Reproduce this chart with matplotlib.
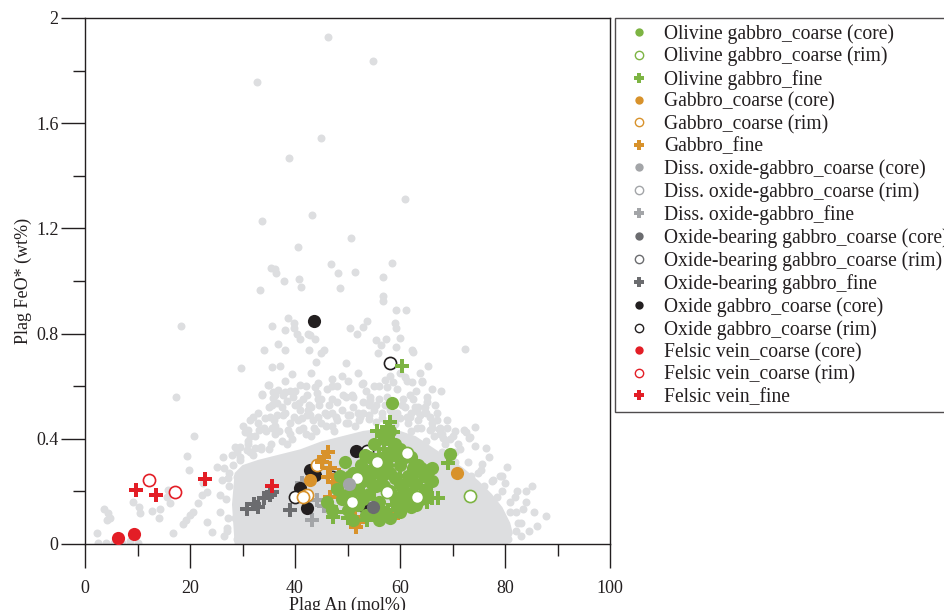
import matplotlib
matplotlib.use("Agg")
import matplotlib.pyplot as plt
from matplotlib.lines import Line2D

plt.rcParams['font.family'] = ['Liberation Serif', 'DejaVu Serif']

# ---------------- background compilation (light grey) ----------------
# outline of the densely packed part of the compilation
core_an = [28.5, 28.0, 28.5, 30, 33, 37, 41, 45, 49, 53, 57, 60, 63, 66, 69, 72, 75, 77.5, 79.5, 81, 81.5, 80.5]
core_feo = [0.00, 0.15, 0.27, 0.30, 0.32, 0.34, 0.36, 0.39, 0.41, 0.43, 0.44, 0.43, 0.41, 0.37, 0.33, 0.29, 0.24, 0.19, 0.14, 0.08, 0.04, 0.00]

bg_an = [46.2, 54.8, 32.7, 45.0, 38.8, 60.9, 33.8, 43.2, 50.7, 40.6, 58.5, 46.9, 35.4, 36.2, 36.4, 48.1,
         51.4, 56.8, 37.9, 40.8, 41.1, 33.4, 48.5, 56.8, 56.8, 59.3, 61.1, 18.3, 38.7, 35.7, 39.9, 39.9,
         38.0, 40.3, 42.4, 42.9, 41.0, 43.8, 36.8, 50.5, 53.0, 53.7, 51.9, 59.0, 59.3, 55.4, 56.4, 57.3,
         60.0, 59.3, 72.4, 34.0, 38.0, 42.7, 45.5, 62.3, 62.4, 17.3, 29.8, 35.6, 37.2, 39.4, 35.0, 41.0,
         33.7, 35.9, 36.8, 38.0, 35.9, 36.5, 37.5, 40.8, 44.0, 45.0, 49.7, 55.8, 47.0, 52.7, 57.1, 57.5,
         43.8, 44.1, 44.4, 49.8, 54.3, 65.3, 63.8, 64.1, 61.0, 61.3, 67.9, 65.1, 63.2, 64.8, 61.9, 74.3,
         67.6, 72.6, 73.2, 67.5, 68.1,
         87.9, 85.1, 82.3, 81.9, 83.5, 80.4, 79.5, 80.0, 77.0, 76.3, 74.3, 75.6, 74.9, 77.8, 79.0,
         82.0, 83.0, 81.0, 84.0, 86.0, 80.5,
         20.8, 19.4, 19.8, 15.9, 15.7, 16.1, 14.2, 12.8, 14.1, 10.2, 10.5, 9.2, 3.6, 4.4, 4.8, 4.1,
         2.2, 2.5, 4.0, 5.5, 7.0, 8.5, 10.0, 16.7, 18.7, 19.2, 20.0, 20.6, 21.6, 22.2, 23.2, 22.5,
         24.1, 23.2, 25.7, 25.7, 26.0, 25.1, 27.3, 28.9, 28.9, 30.8, 32.4, 26.5, 27.0, 26.2,
         34.9, 44.4, 53.0, 58.7, 62.2, 64.1, 33.7, 36.2, 37.8, 39.7, 42.2, 49.2, 50.8, 54.3, 61.9, 65.1,
         35.6, 40.0, 42.6, 46.4, 54.0, 57.1, 60.3, 62.9, 64.8, 66.7,
         32.0, 35.2, 37.7, 39.9, 42.2, 44.4, 47.9, 50.5, 52.4, 61.3, 63.8, 65.7, 68.9, 72.1, 73.3,
         31.0, 33.2, 35.7, 38.6, 40.8, 43.7, 45.9, 49.7, 52.2, 63.2, 65.7, 67.6,
         28.5, 31.1, 33.6, 31.4, 34.3, 36.2, 39.0, 41.3, 42.9, 45.7, 30.5, 32.4, 34.5, 36.2,
         29.5, 32.0, 35.0, 38.5, 43.0, 47.5, 51.5, 55.5, 59.0, 62.0, 65.0, 68.0, 70.5, 73.5, 76.0, 78.5,
         27.0, 27.2, 26.8, 27.4, 28.2, 29.5, 31.5, 33.5, 35.5, 37.5, 39.5, 42.0, 44.0, 47.0, 50.0, 54.0,
         56.5, 59.0, 61.5, 64.0, 66.5, 68.5, 70.5, 73.0, 75.5, 77.5, 79.5, 81.0, 82.0, 82.5, 83.0, 84.5,
         85.5, 84.0, 29.0, 28.5,
         30.0, 33.0, 36.0, 38.0, 41.0, 43.0, 45.0, 47.0, 48.0, 51.0, 53.0, 55.0, 56.0, 58.0, 59.5, 60.5,
         62.0, 63.5, 66.0, 67.0, 69.0, 70.0, 71.0, 46.0, 48.0, 50.0, 55.0, 59.5, 60.0, 52.0, 39.0, 41.5,
         31.5, 33.0, 34.0, 35.0, 36.5, 37.0, 38.5, 39.0, 40.5, 41.5, 42.5, 43.5, 44.5, 45.0, 46.0, 47.0,
         48.0, 49.0, 50.0, 51.0, 52.0, 53.0, 54.0, 55.5, 56.5, 57.5, 58.5, 60.0, 61.0, 62.5, 63.5, 65.0,
         66.0, 67.0, 68.0, 69.5, 70.5, 71.5, 38.0, 40.0, 42.0, 43.0, 47.0, 49.0, 53.5, 56.0, 58.0, 63.0,
         66.0, 31.0, 29.5, 28.0, 26.5, 27.5]
bg_feo = [1.927, 1.837, 1.758, 1.545, 1.467, 1.313, 1.229, 1.251, 1.162, 1.129, 1.070, 1.066, 1.048, 1.047, 1.032, 1.029,
          1.033, 1.015, 1.000, 1.009, 0.977, 0.965, 0.973, 0.942, 0.925, 0.890, 0.890, 0.828, 0.861, 0.830, 0.840, 0.820,
          0.815, 0.800, 0.800, 0.794, 0.779, 0.779, 0.760, 0.820, 0.826, 0.847, 0.797, 0.839, 0.820, 0.776, 0.758, 0.779,
          0.782, 0.750, 0.741, 0.738, 0.738, 0.738, 0.738, 0.738, 0.730, 0.558, 0.669, 0.674, 0.677, 0.646, 0.605, 0.605,
          0.569, 0.579, 0.586, 0.579, 0.554, 0.535, 0.522, 0.535, 0.693, 0.725, 0.687, 0.725, 0.626, 0.608, 0.624, 0.598,
          0.598, 0.573, 0.551, 0.560, 0.548, 0.677, 0.649, 0.621, 0.636, 0.621, 0.582, 0.541, 0.507, 0.503, 0.484, 0.446,
          0.440, 0.425, 0.402, 0.437, 0.402,
          0.108, 0.222, 0.203, 0.180, 0.132, 0.292, 0.259, 0.231, 0.332, 0.364, 0.373, 0.304, 0.269, 0.243, 0.259,
          0.050, 0.080, 0.120, 0.160, 0.070, 0.020,
          0.411, 0.335, 0.281, 0.205, 0.180, 0.155, 0.132, 0.127, 0.100, 0.142, 0.117, 0.161, 0.132, 0.117, 0.100, 0.091,
          0.040, 0.005, 0.005, 0.005, 0.005, 0.010, 0.005, 0.040, 0.076, 0.091, 0.110, 0.123, 0.155, 0.186, 0.199, 0.231,
          0.047, 0.085, 0.123, 0.186, 0.243, 0.292, 0.250, 0.256, 0.351, 0.357, 0.364, 0.030, 0.060, 0.330,
          0.605, 0.611, 0.611, 0.617, 0.617, 0.617, 0.567, 0.567, 0.567, 0.560, 0.567, 0.567, 0.567, 0.560, 0.567, 0.560,
          0.529, 0.529, 0.529, 0.529, 0.529, 0.529, 0.529, 0.520, 0.520, 0.529,
          0.483, 0.483, 0.490, 0.483, 0.490, 0.483, 0.483, 0.490, 0.483, 0.483, 0.490, 0.483, 0.470, 0.433, 0.408,
          0.433, 0.433, 0.440, 0.433, 0.433, 0.440, 0.450, 0.460, 0.470, 0.440, 0.433, 0.420,
          0.370, 0.380, 0.370, 0.470, 0.480, 0.450, 0.460, 0.480, 0.490, 0.500, 0.426, 0.410, 0.430, 0.420,
          0.320, 0.340, 0.360, 0.380, 0.410, 0.430, 0.450, 0.465, 0.455, 0.430, 0.390, 0.350, 0.310, 0.260, 0.220, 0.180,
          0.050, 0.100, 0.170, 0.220, 0.300, 0.330, 0.350, 0.360, 0.380, 0.390, 0.400, 0.420, 0.430, 0.450, 0.460, 0.475,
          0.480, 0.475, 0.460, 0.440, 0.410, 0.380, 0.350, 0.310, 0.280, 0.240, 0.200, 0.160, 0.120, 0.080, 0.030, 0.050,
          0.120, 0.200, 0.020, 0.100,
          0.450, 0.460, 0.470, 0.500, 0.510, 0.520, 0.550, 0.500, 0.540, 0.520, 0.500, 0.510, 0.550, 0.510, 0.500, 0.550,
          0.500, 0.470, 0.460, 0.500, 0.440, 0.410, 0.380, 0.590, 0.600, 0.620, 0.600, 0.590, 0.650, 0.650, 0.580, 0.550,
          0.410, 0.500, 0.440, 0.520, 0.490, 0.430, 0.545, 0.420, 0.470, 0.440, 0.510, 0.470, 0.530, 0.460, 0.490, 0.550,
          0.470, 0.510, 0.490, 0.560, 0.500, 0.540, 0.490, 0.530, 0.500, 0.560, 0.500, 0.480, 0.520, 0.550, 0.520, 0.500,
          0.440, 0.470, 0.420, 0.400, 0.430, 0.360, 0.620, 0.580, 0.600, 0.650, 0.600, 0.640, 0.580, 0.600, 0.640, 0.580,
          0.590, 0.390, 0.370, 0.340, 0.290, 0.270]

# ---------------- sample series ----------------
ol_core_an = [58.4, 53.3, 69.5, 48, 49, 50, 50.5, 51.5, 52, 52.5, 53, 53.5, 54, 54.5, 55, 55.5, 56, 56.5, 57,
              57.5, 58, 58.5, 59, 59.5, 60, 60.5, 61, 61.5, 62, 62.5, 63, 63.5, 64, 64.5, 65, 65.5, 66,
              46, 47, 55, 57, 58, 59, 51, 60, 62, 56,
              48.5, 49.5, 50, 51, 52, 53, 54, 55, 56, 57, 58, 59, 60, 61, 62, 63, 64, 65, 66, 60, 62, 57,
              55, 58, 53]
ol_core_feo = [0.537, 0.338, 0.342, 0.21, 0.17, 0.13, 0.26, 0.20, 0.15, 0.30, 0.24, 0.11, 0.19, 0.28, 0.32, 0.22,
               0.16, 0.26, 0.12, 0.30, 0.20, 0.35, 0.25, 0.15, 0.30, 0.21, 0.33, 0.26, 0.19, 0.29, 0.23, 0.30,
               0.17, 0.26, 0.21, 0.28, 0.24, 0.16, 0.13, 0.38, 0.40, 0.43, 0.38, 0.27, 0.12, 0.14, 0.09,
               0.26, 0.31, 0.19, 0.09, 0.21, 0.17, 0.33, 0.27, 0.30, 0.22, 0.27, 0.18, 0.23, 0.17, 0.24, 0.15,
               0.29, 0.19, 0.29, 0.36, 0.33, 0.33, 0.12, 0.10, 0.27]
ol_rim_an = [73.3, 61.3, 55.6, 51.9, 57.5, 63.2, 50.8]
ol_rim_feo = [0.182, 0.345, 0.313, 0.250, 0.199, 0.180, 0.161]
ol_fine_an = [60.4, 55.6, 57.5, 58.1, 58.7, 56.8, 69.2, 67.3, 66.0, 65.1, 47.3, 47.9, 53.7, 54.3, 57.8, 58.7,
              59.4, 49.0, 52.0, 54.0, 56.0, 57.0, 58.0, 60.0, 62.0, 63.0, 64.0, 61.0, 55.0, 50.0, 58.0, 59.5]
ol_fine_feo = [0.677, 0.430, 0.446, 0.462, 0.427, 0.414, 0.307, 0.174, 0.174, 0.161, 0.104, 0.123, 0.091, 0.110,
               0.129, 0.148, 0.161, 0.22, 0.28, 0.24, 0.34, 0.36, 0.38, 0.26, 0.32, 0.27, 0.22, 0.14, 0.17, 0.10,
               0.32, 0.34]

gb_core_an = [70.8, 42.9]
gb_core_feo = [0.269, 0.243]
gb_rim_an = [42.3, 41.5, 44.2]
gb_rim_feo = [0.186, 0.178, 0.300]
gb_fine_an = [46.2, 45.1, 46.7, 46.3, 48.3, 49.2, 47.3, 46.7, 51.4, 52.1, 51.7, 59.7, 54.9, 45.5]
gb_fine_feo = [0.351, 0.313, 0.288, 0.256, 0.262, 0.243, 0.237, 0.180, 0.104, 0.085, 0.066, 0.117, 0.269, 0.330]

dg_core_an = [50.3]
dg_core_feo = [0.227]
dg_rim_an = []
dg_rim_feo = []
dg_fine_an = [43.2, 45.5, 46.5, 44.1, 41.3]
dg_fine_feo = [0.091, 0.145, 0.140, 0.167, 0.231]

ob_core_an = [54.9]
ob_core_feo = [0.139]
ob_rim_an = []
ob_rim_feo = []
ob_fine_an = [30.8, 32.1, 33.0, 34.0, 35.2, 35.7, 39.0]
ob_fine_feo = [0.133, 0.152, 0.142, 0.174, 0.186, 0.199, 0.130]

ox_core_an = [43.6, 51.6, 42.9, 41.0, 42.3, 53.0, 43.8]
ox_core_feo = [0.849, 0.355, 0.281, 0.212, 0.136, 0.144, 0.262]
ox_rim_an = [58.0, 53.7, 40.0, 47.0]
ox_rim_feo = [0.689, 0.355, 0.180, 0.256]

fv_core_an = [6.3, 9.4]
fv_core_feo = [0.024, 0.038]
fv_rim_an = [12.1, 17.1]
fv_rim_feo = [0.243, 0.196]
fv_fine_an = [9.7, 13.5, 22.9, 35.6]
fv_fine_feo = [0.205, 0.186, 0.246, 0.221]

labels = ['Olivine gabbro_coarse (core)', 'Olivine gabbro_coarse (rim)', 'Olivine gabbro_fine',
          'Gabbro_coarse (core)', 'Gabbro_coarse (rim)', 'Gabbro_fine',
          'Diss. oxide-gabbro_coarse (core)', 'Diss. oxide-gabbro_coarse (rim)', 'Diss. oxide-gabbro_fine',
          'Oxide-bearing gabbro_coarse (core)', 'Oxide-bearing gabbro_coarse (rim)', 'Oxide-bearing gabbro_fine',
          'Oxide gabbro_coarse (core)', 'Oxide gabbro_coarse (rim)',
          'Felsic vein_coarse (core)', 'Felsic vein_coarse (rim)', 'Felsic vein_fine']

x_ticks = [0, 20, 40, 60, 80, 100]
y_ticks = [0, 0.4, 0.8, 1.2, 1.6, 2.0]
y_tick_labels = ['0', '0.4', '0.8', '1.2', '1.6', '2']

GREEN = '#7db443'
ORANGE = '#d8922b'
LGRAY = '#a3a5a8'
DGRAY = '#6b6c6f'
BLACK = '#231f20'
RED = '#e31e26'
BG = '#dddee0'

fig = plt.figure(figsize=(9.45, 6.10), dpi=100)
ax = fig.add_axes([85 / 945, 66 / 610, 525 / 945, 526 / 610])

ax.fill(core_an, core_feo, color=BG, lw=0, zorder=1)
ax.scatter(bg_an, bg_feo, s=33, c=BG, lw=0, zorder=1)

S = 90
def filled(a, f, c, z=3):
    ax.scatter(a, f, s=S, c=c, lw=0, zorder=z)
def opened(a, f, c, z=3):
    ax.scatter(a, f, s=S * 0.85, facecolors='white', edgecolors=c, linewidths=1.2, zorder=z)
def plus(a, f, c, z=3):
    ax.scatter(a, f, s=S, c=c, marker='P', lw=0, zorder=z)

plus(ob_fine_an, ob_fine_feo, DGRAY)
plus(dg_fine_an, dg_fine_feo, LGRAY)
filled(ox_core_an, ox_core_feo, BLACK)
opened(ox_rim_an, ox_rim_feo, BLACK)
filled(gb_core_an, gb_core_feo, ORANGE)
opened(gb_rim_an, gb_rim_feo, ORANGE)
plus(gb_fine_an, gb_fine_feo, ORANGE)
plus(ol_fine_an, ol_fine_feo, GREEN)
filled(ol_core_an, ol_core_feo, GREEN)
opened(ol_rim_an, ol_rim_feo, GREEN)
filled(dg_core_an, dg_core_feo, LGRAY)
filled(ob_core_an, ob_core_feo, DGRAY)
opened(dg_rim_an, dg_rim_feo, LGRAY)
opened(ob_rim_an, ob_rim_feo, DGRAY)
filled(fv_core_an, fv_core_feo, RED, 4)
opened(fv_rim_an, fv_rim_feo, RED, 4)
plus(fv_fine_an, fv_fine_feo, RED, 4)

ax.set_xlim(0, 100)
ax.set_ylim(0, 2)
ax.set_xticks(x_ticks)
ax.set_xticks([10, 30, 50, 70, 90], minor=True)
ax.set_yticks(y_ticks)
ax.set_yticklabels(y_tick_labels)
ax.set_yticks([0.2, 0.6, 1.0, 1.4, 1.8], minor=True)
ax.tick_params(which='major', direction='out', length=17, width=1.0, color=BLACK,
               labelsize=13, labelcolor=BLACK)
ax.tick_params(which='minor', direction='out', length=8.5, width=1.0, color=BLACK)
ax.tick_params(axis='x', which='major', pad=9)
ax.tick_params(axis='y', which='major', pad=2)
for sp in ax.spines.values():
    sp.set_color(BLACK)
    sp.set_linewidth(1.0)
ax.set_xlabel('Plag An (mol%)', fontsize=13, color=BLACK, labelpad=0)
ax.set_ylabel('Plag FeO* (wt%)', fontsize=13, color=BLACK, labelpad=3)

cols = [GREEN, GREEN, GREEN, ORANGE, ORANGE, ORANGE, LGRAY, LGRAY, LGRAY,
        DGRAY, DGRAY, DGRAY, BLACK, BLACK, RED, RED, RED]
kinds = ['f', 'o', 'p'] * 4 + ['f', 'o'] + ['f', 'o', 'p']
handles = []
for c, k in zip(cols, kinds):
    if k == 'f':
        h = Line2D([], [], ls='none', marker='o', ms=6, mfc=c, mec=c, mew=0)
    elif k == 'o':
        h = Line2D([], [], ls='none', marker='o', ms=6, mfc='white', mec=c, mew=1.0)
    else:
        h = Line2D([], [], ls='none', marker='P', ms=7, mfc=c, mec=c, mew=0)
    handles.append(h)

leg = fig.legend(handles, labels, loc='upper left', bbox_to_anchor=(615 / 945, 1 - 18 / 610),
                 bbox_transform=fig.transFigure, frameon=True, fancybox=False, fontsize=14.1,
                 borderpad=0.3, handlelength=1.85, handletextpad=0.35, labelspacing=0.16,
                 borderaxespad=0)
leg.get_frame().set_edgecolor(BLACK)
leg.get_frame().set_linewidth(1.0)
for t in leg.get_texts():
    t.set_color(BLACK)

fig.savefig('out.png', dpi=100)
